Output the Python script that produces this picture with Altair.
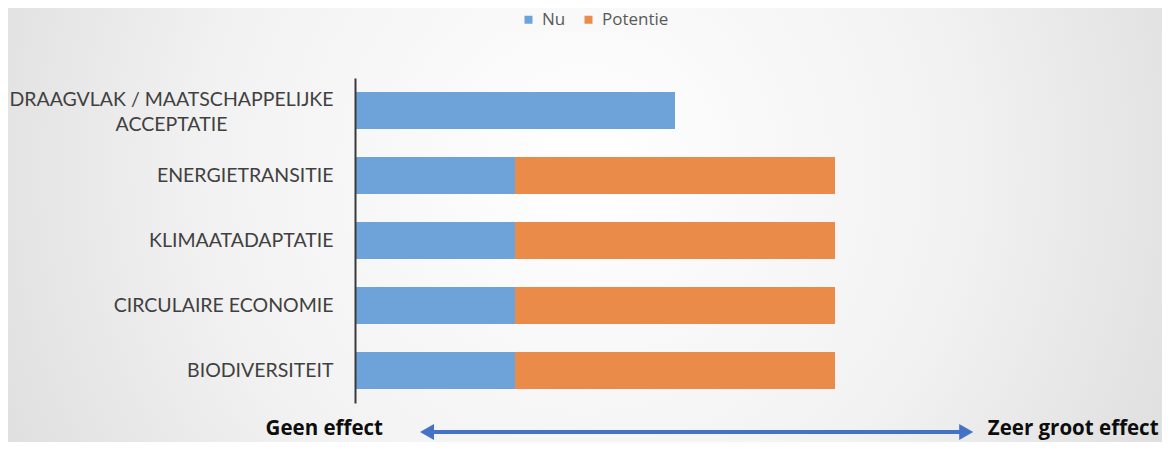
import altair as alt
import pandas as pd

categories = [
    "DRAAGVLAK / MAATSCHAPPELIJKE ACCEPTATIE",
    "ENERGIETRANSITIE",
    "KLIMAATADAPTATIE",
    "CIRCULAIRE ECONOMIE",
    "BIODIVERSITEIT",
]
nu = [2, 1, 1, 1, 1]
potentie = [0, 2, 2, 2, 2]
series = ["Nu", "Potentie"]
colors = ["#6DA3D9", "#EA8B4A"]
left_text = "Geen effect"
right_text = "Zeer groot effect"
arrow_ends = [0.45, 3.82]
text_pos = [0.175, 3.955]

rows = []
for i, c in enumerate(categories):
    rows.append({"cat": c, "serie": "Nu", "val": nu[i], "ord": 0})
    rows.append({"cat": c, "serie": "Potentie", "val": potentie[i], "ord": 1})
df = pd.DataFrame(rows)

first = categories[0]
test_first = f"datum.value == '{first}'"
label_expr = (
    f"{test_first} ? ['DRAAGVLAK / MAATSCHAPPELIJKE', 'ACCEPTATIE'] : datum.label"
)

bars = alt.Chart(df).mark_bar().encode(
    x=alt.X("sum(val):Q", scale=alt.Scale(domain=[0, 4], nice=False, zero=True), axis=None, stack="zero"),
    y=alt.Y(
        "cat:N",
        sort=categories,
        title=None,
        scale=alt.Scale(paddingInner=0.43, paddingOuter=0.215),
        axis=alt.Axis(
            zindex=2,
            ticks=False,
            grid=False,
            domainColor="#3a3a3a",
            domainWidth=2,
            labelFont="Lato",
            labelFontSize=19.5,
            labelColor="#404040",
            labelLimit=400,
            labelLineHeight=25,
            labelExpr=label_expr,
            labelAlign={"condition": {"test": test_first, "value": "center"}, "value": "right"},
            labelPadding={"condition": {"test": test_first, "value": 184}, "value": 22},
            labelOffset={"condition": {"test": test_first, "value": -11}, "value": 0},
        ),
    ),
    color=alt.Color(
        "serie:N",
        scale=alt.Scale(domain=series, range=colors),
        legend=alt.Legend(
            title=None,
            orient="none",
            direction="horizontal",
            legendX=162,
            legendY=-70,
            symbolType="square",
            symbolSize=64,
            symbolStrokeWidth=0,
            labelFont="Open Sans",
            labelFontSize=17,
            labelColor="#595959",
            labelOffset=5,
            columnPadding=14,
            labelLimit=200,
            fillColor="#f9f9f9",
            padding=3,
        ),
    ),
    order=alt.Order("ord:Q"),
)

bg = alt.Chart(pd.DataFrame({"a": [0]})).mark_rect(
    fill={
        "gradient": "radial",
        "x1": 0.5, "y1": 0.45, "r1": 0,
        "x2": 0.5, "y2": 0.45, "r2": 0.72,
        "stops": [
            {"offset": 0, "color": "#ffffff"},
            {"offset": 0.45, "color": "#f2f2f2"},
            {"offset": 1, "color": "#d2d2d2"},
        ],
    }
).encode(x=alt.value(-347), x2=alt.value(807), y=alt.value(-70), y2=alt.value(364))

arrow_df = pd.DataFrame({"x": [arrow_ends[0]], "x2": [arrow_ends[1]]})
arrow_line = alt.Chart(arrow_df).mark_rule(color="#4472C4", strokeWidth=4).encode(
    x="x:Q", x2="x2:Q", y=alt.value(354)
)
heads_df = pd.DataFrame({"x": arrow_ends, "shape": ["triangle-left", "triangle-right"]})
heads = alt.Chart(heads_df).mark_point(filled=True, color="#4472C4", opacity=1, size=260).encode(
    x="x:Q",
    y=alt.value(354),
    shape=alt.Shape("shape:N", scale=None, legend=None),
)

texts_df = pd.DataFrame({"x": text_pos, "t": [left_text, right_text]})
t_left = alt.Chart(texts_df.iloc[[0]]).mark_text(
    align="right", baseline="middle", font="Open Sans", fontSize=20.5, fontWeight="bold", color="#0d0d0d"
).encode(x="x:Q", y=alt.value(351), text="t:N")
t_right = alt.Chart(texts_df.iloc[[1]]).mark_text(
    align="left", baseline="middle", font="Open Sans", fontSize=20.5, fontWeight="bold", color="#0d0d0d"
).encode(x="x:Q", y=alt.value(351), text="t:N")

chart = alt.layer(bg, bars, arrow_line, heads, t_left, t_right).properties(
    width=640,
    height=325,
    autosize=alt.AutoSizeParams(type="none"),
    padding={"left": 347, "top": 70, "right": 167, "bottom": 39},
).configure_view(strokeWidth=0).configure(background="#e0e0e0")

chart.save("out.html", embed_options={"renderer": "svg", "actions": False})
